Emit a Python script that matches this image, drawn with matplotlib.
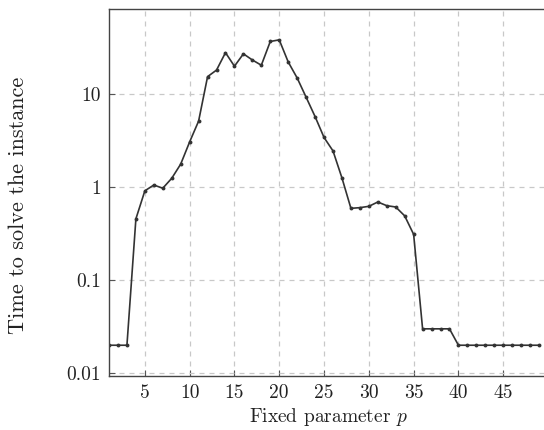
import numpy as np
import matplotlib
matplotlib.use("Agg")
from matplotlib import pyplot as plt
from matplotlib.ticker import FixedLocator, FixedFormatter, NullLocator

plt.rcParams["font.family"] = "serif"
plt.rcParams["font.serif"] = ["cmr10", "DejaVu Serif"]
plt.rcParams["mathtext.fontset"] = "cm"
plt.rcParams["axes.unicode_minus"] = False

# fixed parameter p and time to solve
params = list(range(1, 50))
times = [0.02, 0.02, 0.02, 0.455, 0.91, 1.05, 0.97, 1.24, 1.76, 3.05,
         5.1, 15.3, 18.0, 27.7, 19.8, 26.9, 23.1, 20.3, 36.5, 38.0,
         22.0, 14.8, 9.2, 5.7, 3.4, 2.44, 1.25, 0.59, 0.60, 0.62,
         0.69, 0.63, 0.61, 0.49, 0.31, 0.03, 0.03, 0.03, 0.03, 0.02,
         0.02, 0.02, 0.02, 0.02, 0.02, 0.02, 0.02, 0.02, 0.02]
xticks = [5, 10, 15, 20, 25, 30, 35, 40, 45]
yticks = [0.01, 0.1, 1, 10]
ytick_labels = ["0.01", "0.1", "1", "10"]

fig = plt.figure(figsize=(5.44, 4.30), dpi=100)
ax = fig.add_axes([0.2004, 0.1256, 0.807, 0.8535])

ax.plot(params, times, color="#333333", linewidth=1.2,
        marker="o", markersize=2.8, markerfacecolor="#333333",
        markeredgewidth=0)

ax.set_yscale("log")
ax.set_xlim(1, 50)
ax.set_ylim(0.00935, 81.5)

ax.xaxis.set_major_locator(FixedLocator(xticks))
ax.yaxis.set_major_locator(FixedLocator(yticks))
ax.yaxis.set_major_formatter(FixedFormatter(ytick_labels))
ax.yaxis.set_minor_locator(NullLocator())

ax.grid(True, which="major", color="#c8c8c8", linestyle=(0, (4, 4)),
        linewidth=0.9)
ax.set_axisbelow(True)

for side in ["left", "bottom", "top"]:
    ax.spines[side].set_color("#444444")
    ax.spines[side].set_linewidth(1.0)
ax.spines["right"].set_visible(False)

ax.tick_params(axis="both", which="major", direction="in", length=4,
               width=0.8, color="#555555", labelsize=14, pad=6,
               labelcolor="#222222")

ax.set_xlabel("Fixed parameter $p$", fontsize=14, color="#222222", labelpad=3)
ax.set_ylabel("Time to solve the instance", fontsize=16, color="#222222")
# label centre sits a little below the axes middle in the reference
ax.yaxis.set_label_coords(-0.184, 0.466)

fig.savefig("out.png", dpi=100)
